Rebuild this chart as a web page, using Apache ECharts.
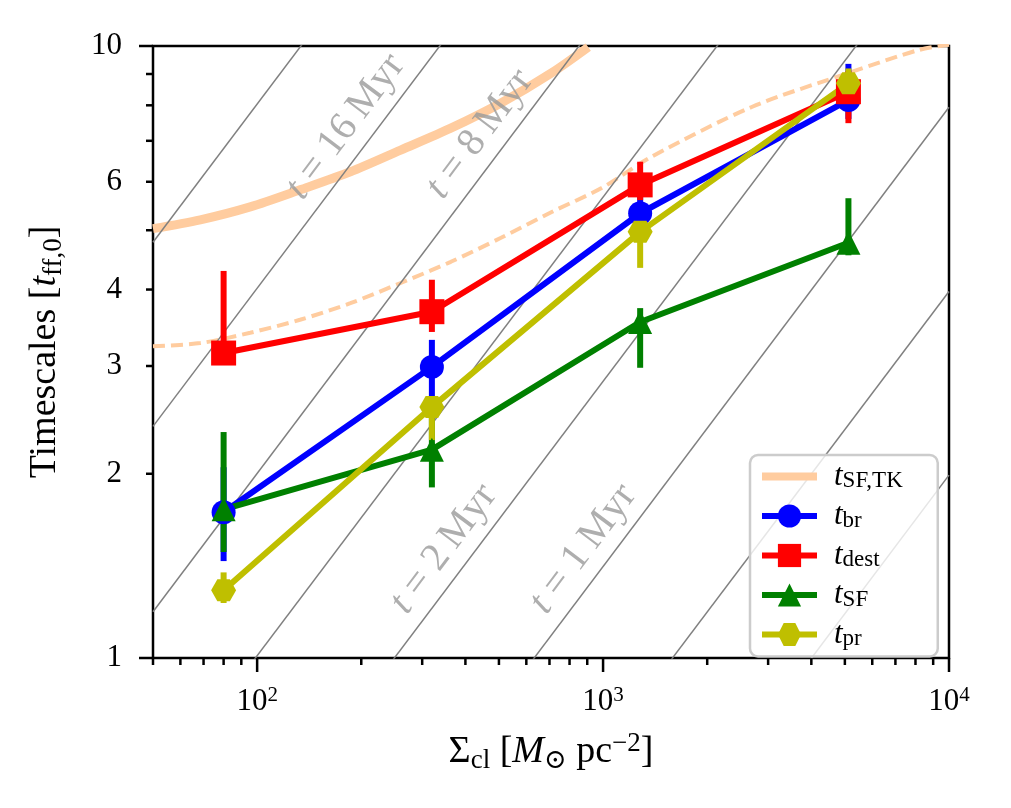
<!DOCTYPE html>
<html>
<head>
<meta charset="utf-8">
<script src="https://cdn.jsdelivr.net/npm/echarts@6/dist/echarts.min.js"></script>
<style>
  html, body { margin: 0; padding: 0; background: #fff; }
  #chart { width: 1011px; height: 808px; }
</style>
</head>
<body>
<div id="chart"></div>
<script>
// cluster surface densities (Msun / pc^2)
const sigma = [80, 320, 1280, 5120];

// timescales in units of t_ff,0, with the ends of the error bars
const tBr = [1.73, 2.99, 5.33, 8.16];
const tBrLo = [1.44, 2.66, 5.0, 7.6];
const tBrHi = [2.05, 3.31, 5.7, 9.35];

const tDest = [3.15, 3.68, 5.93, 8.42];
const tDestLo = [3.05, 3.41, 5.6, 7.48];
const tDestHi = [4.29, 4.15, 6.47, 9.1];

const tSF = [1.75, 2.19, 3.54, 4.77];
const tSFLo = [1.49, 1.90, 2.98, 4.55];
const tSFHi = [2.34, 2.5, 3.73, 5.64];

const tPr = [1.29, 2.57, 4.97, 8.69];
const tPrLo = [1.23, 2.27, 4.34, 8.3];
const tPrHi = [1.38, 2.68, 5.3, 9.19];

// t_SF,TK curve (solid) and the same model shown dashed
const tkSigma = [50, 68.5, 95.5, 133, 186, 260, 363, 507, 708, 906];
const tkSolid = [5.03, 5.20, 5.46, 5.82, 6.23, 6.76, 7.34, 8.07, 9.03, 9.96];
const tkDashSigma = [50, 68.5, 95.5, 133, 186, 260, 363, 507, 708, 990, 1380, 2690, 5230, 8180, 10000];
const tkDash = [3.23, 3.27, 3.40, 3.57, 3.80, 4.10, 4.44, 4.86, 5.35, 5.86, 6.59, 7.95, 9.07, 9.85, 10.05];

// constant-time guide lines: value at Sigma = 50 and at Sigma = 1e4
const guideTimes = [32, 16, 8, 4, 2, 1, 0.5, 0.25];
const guideAt50 = [4.78, 2.39, 1.19, 0.60, 0.30, 0.149, 0.075, 0.037];
const guideAt1e4 = [254, 127, 63.5, 31.8, 15.9, 7.94, 3.97, 1.99];

// labels on some of the guide lines
const labelTimes = [16, 8, 2, 1];
const labelSigma = [180, 440, 346, 876];
const labelT = [7.38, 7.18, 1.507, 1.507];

// axis ticks
const xMajor = [100, 1000, 10000];
const xMajorExp = ['2', '3', '4'];
const xMinor = [50, 60, 70, 80, 90, 200, 300, 400, 500, 600, 700, 800, 900,
  2000, 3000, 4000, 5000, 6000, 7000, 8000, 9000];
const yMajor = [1, 10];
const yMinor = [2, 3, 4, 5, 6, 7, 8, 9];
const yLabelled = [1, 2, 3, 4, 6, 10];

const X_MIN = 50, X_MAX = 10000, Y_MIN = 1, Y_MAX = 10;
const SERIF = '"Liberation Serif", "DejaVu Serif", serif';
const HEX = 'path://M-1,0 L-0.5,-0.866 L0.5,-0.866 L1,0 L0.5,0.866 L-0.5,0.866 Z';
const LW = 6;

const chart = echarts.init(document.getElementById('chart'));

function pairs(xs, ys) {
  return xs.map((x, i) => [x, ys[i]]);
}

function errorSeries(name, color, lo, hi) {
  return {
    name: name,
    type: 'custom',
    data: sigma.map((x, i) => [x, lo[i], hi[i]]),
    encode: { x: 0, y: [1, 2] },
    silent: true,
    renderItem: function(params, api) {
      const a = api.coord([api.value(0), api.value(1)]);
      const b = api.coord([api.value(0), api.value(2)]);
      return {
        type: 'line',
        shape: { x1: a[0], y1: a[1], x2: b[0], y2: b[1] },
        style: { stroke: color, lineWidth: LW }
      };
    }
  };
}

function dataSeries(name, color, ys, symbol, size) {
  return {
    name: name,
    type: 'line',
    data: pairs(sigma, ys),
    symbol: symbol,
    symbolSize: size,
    lineStyle: { color: color, width: LW },
    itemStyle: { color: color },
    silent: true
  };
}

const tickRich = {
  b: { fontFamily: SERIF, fontSize: 31, lineHeight: 34, fill: '#000' },
  e: { fontFamily: SERIF, fontSize: 21, lineHeight: 20, verticalAlign: 'top', fill: '#000' }
};

// tick list for the custom axis decorations
const xTicks = xMinor.map(v => ({ v: v, major: false, label: '' }))
  .concat(xMajor.map((v, i) => ({ v: v, major: true, label: xMajorExp[i] })));
const yTicks = yMinor.map(v => ({ v: v, major: false }))
  .concat(yMajor.map(v => ({ v: v, major: true })));

const xTickSeries = {
  type: 'custom',
  data: xTicks.map(t => [t.v, Y_MIN]),
  clip: false,
  silent: true,
  z: 10,
  renderItem: function(params, api) {
    const t = xTicks[params.dataIndex];
    const p = api.coord([api.value(0), api.value(1)]);
    const len = t.major ? 14 : 7;
    const kids = [{
      type: 'line',
      shape: { x1: p[0], y1: p[1], x2: p[0], y2: p[1] + len },
      style: { stroke: '#000', lineWidth: 2.5 }
    }];
    if (t.major) {
      kids.push({
        type: 'text',
        x: p[0],
        y: p[1] + 27,
        style: { text: '{b|10}{e|' + t.label + '}', rich: tickRich, align: 'center', verticalAlign: 'top', fill: '#000' }
      });
    }
    return { type: 'group', children: kids };
  }
};

const yTickSeries = {
  type: 'custom',
  data: yTicks.map(t => [X_MIN, t.v]),
  clip: false,
  silent: true,
  z: 10,
  renderItem: function(params, api) {
    const t = yTicks[params.dataIndex];
    const p = api.coord([api.value(0), api.value(1)]);
    const len = t.major ? 14 : 7;
    const kids = [{
      type: 'line',
      shape: { x1: p[0] - len, y1: p[1], x2: p[0], y2: p[1] },
      style: { stroke: '#000', lineWidth: 2.5 }
    }];
    if (yLabelled.indexOf(t.v) >= 0) {
      kids.push({
        type: 'text',
        x: p[0] - 31,
        y: p[1],
        style: { text: String(t.v), fontFamily: SERIF, fontSize: 31, align: 'right', verticalAlign: 'middle', fill: '#000' }
      });
    }
    return { type: 'group', children: kids };
  }
};

const guideSeries = guideTimes.map((t, i) => ({
  name: 'guide' + t,
  type: 'line',
  data: [[X_MIN, guideAt50[i]], [X_MAX, guideAt1e4[i]]],
  symbol: 'none',
  lineStyle: { color: '#808080', width: 1.5 },
  silent: true,
  z: 1
}));

const labelSeries = {
  type: 'scatter',
  data: labelSigma.map((x, i) => [x, labelT[i]]),
  symbolSize: 1,
  itemStyle: { color: 'rgba(0,0,0,0)' },
  silent: true,
  z: 1,
  label: {
    show: true,
    position: 'inside',
    rotate: 53,
    formatter: p => '{i|t}{r| = ' + labelTimes[p.dataIndex] + '\u2009Myr}',
    rich: {
      i: { fontFamily: SERIF, fontStyle: 'italic', fontSize: 40, color: '#9a9a9a' },
      r: { fontFamily: SERIF, fontSize: 40, color: '#9a9a9a' }
    }
  }
};

const legendNames = {
  't_SF,TK': '{i|t}{s|SF,TK}',
  't_br': '{i|t}{s|br}',
  't_dest': '{i|t}{s|dest}',
  't_SF': '{i|t}{s|SF}',
  't_pr': '{i|t}{s|pr}'
};

const option = {
  animation: false,
  backgroundColor: '#fff',
  grid: {
    left: 153, right: 62, top: 46, bottom: 150,
    show: true, borderColor: '#000', borderWidth: 2.5, backgroundColor: 'transparent'
  },
  xAxis: {
    type: 'log', logBase: 10, min: X_MIN, max: X_MAX,
    axisLine: { show: false }, axisTick: { show: false }, axisLabel: { show: false },
    splitLine: { show: false },
    name: '{n|\u03a3}{sub|cl}{n| [}{i|M}{sub|\u2299}{n| pc}{sup|\u22122}{n|]}',
    nameLocation: 'middle',
    nameGap: 72,
    nameTextStyle: {
      rich: {
        n: { fontFamily: SERIF, fontSize: 38, lineHeight: 44, color: '#000' },
        i: { fontFamily: SERIF, fontStyle: 'italic', fontSize: 38, lineHeight: 44, color: '#000' },
        sub: { fontFamily: SERIF, fontSize: 27, lineHeight: 26, verticalAlign: 'bottom', color: '#000' },
        sup: { fontFamily: SERIF, fontSize: 27, lineHeight: 26, verticalAlign: 'top', color: '#000' }
      }
    }
  },
  yAxis: {
    type: 'log', logBase: 10, min: Y_MIN, max: Y_MAX,
    axisLine: { show: false }, axisTick: { show: false }, axisLabel: { show: false },
    splitLine: { show: false },
    name: '{n|Timescales [}{i|t}{sub|ff,0}{n|]}',
    nameLocation: 'middle',
    nameRotate: 90,
    nameGap: 86,
    nameTextStyle: {
      rich: {
        n: { fontFamily: SERIF, fontSize: 38, lineHeight: 44, color: '#000' },
        i: { fontFamily: SERIF, fontStyle: 'italic', fontSize: 38, lineHeight: 44, color: '#000' },
        sub: { fontFamily: SERIF, fontSize: 27, lineHeight: 26, verticalAlign: 'bottom', color: '#000' }
      }
    }
  },
  legend: {
    data: [
      { name: 't_SF,TK', itemStyle: { opacity: 0 }, lineStyle: { width: 8, color: '#ffcc9f' } },
      { name: 't_br', lineStyle: { width: LW } },
      { name: 't_dest', lineStyle: { width: LW } },
      { name: 't_SF', lineStyle: { width: LW } },
      { name: 't_pr', lineStyle: { width: LW } }
    ],
    orient: 'vertical',
    left: 750,
    top: 455,
    padding: [6, 35, 6, 8],
    itemWidth: 55,
    itemHeight: 29,
    itemGap: 8,
    backgroundColor: 'rgba(255,255,255,0.8)',
    borderColor: '#cccccc',
    borderWidth: 2.5,
    borderRadius: 8,
    selectedMode: false,
    formatter: name => legendNames[name],
    textStyle: {
      padding: [0, 0, 0, 12],
      rich: {
        i: { fontFamily: SERIF, fontStyle: 'italic', fontSize: 31, lineHeight: 32, color: '#000' },
        s: { fontFamily: SERIF, fontSize: 23, lineHeight: 20, verticalAlign: 'bottom', color: '#000' }
      }
    }
  },
  series: [
    {
      name: 't_SF,TK',
      type: 'line',
      data: pairs(tkSigma, tkSolid),
      smooth: 0.3,
      symbol: 'none',
      lineStyle: { color: '#ffcc9f', width: 9 },
      itemStyle: { color: '#ffcc9f' },
      silent: true,
      z: 1
    },
    {
      name: 'tkDashed',
      type: 'line',
      data: pairs(tkDashSigma, tkDash),
      smooth: 0.3,
      symbol: 'none',
      lineStyle: { color: '#ffcc9f', width: 4, type: [12, 6] },
      silent: true,
      z: 1
    },
    ...guideSeries,
    labelSeries,
    errorSeries('err_br', '#0000ff', tBrLo, tBrHi),
    dataSeries('t_br', '#0000ff', tBr, 'circle', 24),
    errorSeries('err_dest', '#ff0000', tDestLo, tDestHi),
    dataSeries('t_dest', '#ff0000', tDest, 'rect', 25),
    errorSeries('err_sf', '#008000', tSFLo, tSFHi),
    dataSeries('t_SF', '#008000', tSF, 'triangle', 24),
    errorSeries('err_pr', '#bfbf00', tPrLo, tPrHi),
    dataSeries('t_pr', '#bfbf00', tPr, HEX, [25, 22]),
    xTickSeries,
    yTickSeries
  ]
};

chart.setOption(option);
</script>
</body>
</html>
